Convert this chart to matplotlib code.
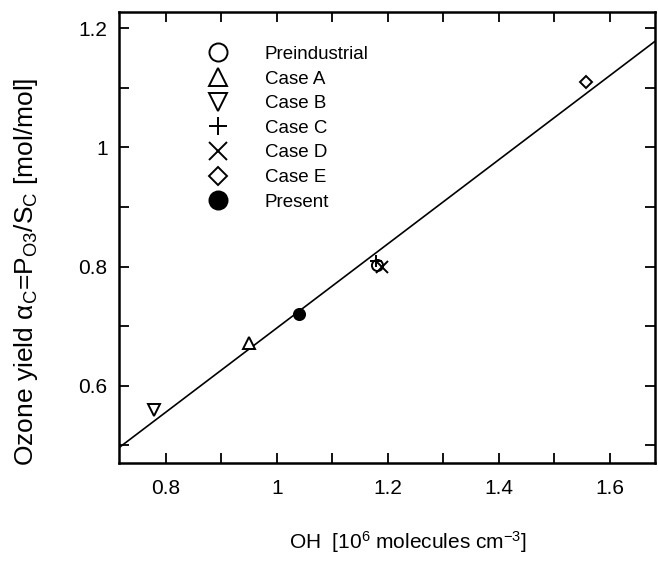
import matplotlib
matplotlib.use("Agg")
import matplotlib.pyplot as plt
from matplotlib.lines import Line2D
import numpy as np

plt.rcParams['font.family'] = ['Liberation Sans', 'DejaVu Sans']
plt.rcParams['mathtext.fontset'] = 'custom'
plt.rcParams['mathtext.rm'] = 'Liberation Sans'
plt.rcParams['mathtext.it'] = 'Liberation Sans:italic'
plt.rcParams['mathtext.sf'] = 'Liberation Sans'

# simulations: OH (1e6 molec/cm3) vs ozone yield
cases = ["Preindustrial", "Case A", "Case B", "Case C", "Case D", "Case E", "Present"]
oh = [1.18, 0.95, 0.778, 1.178, 1.19, 1.557, 1.04]
yield_c = [0.802, 0.671, 0.559, 0.81, 0.80, 1.11, 0.72]
markers = ["o", "^", "v", "+", "x", "D", "o"]
filled = [False, False, False, False, False, False, True]

# regression line
fit_slope = 0.706
fit_icpt = -0.009

xlim = (0.715, 1.681)
ylim = (0.471, 1.227)

fig = plt.figure(figsize=(6.58, 5.63), dpi=100)
ax = fig.add_axes([0.1804, 0.1782, 0.8150, 0.8005])

xs = np.array(xlim)
ax.plot(xs, fit_slope * xs + fit_icpt, color="black", lw=1.2, zorder=1)

handles = []
for name, x, y, m, f in zip(cases, oh, yield_c, markers, filled):
    face = "black" if f else "white"
    if m in ("+", "x"):
        face = "black"
    ms = 6 if m == "D" else 8
    ax.plot([x], [y], marker=m, ls="none", ms=ms, mfc=face, mec="black", mew=1.4, zorder=3)
    lms = 9.5 if m == "D" else 13
    handles.append(Line2D([], [], marker=m, ls="none", ms=lms, mfc=face, mec="black", mew=1.4, label=name))

leg = ax.legend(handles=handles, loc="upper left", bbox_to_anchor=(0.1256, 0.954), frameon=False,
                fontsize=13.5, labelspacing=0.4, handletextpad=1.5, borderpad=0.2)

ax.set_xlim(*xlim)
ax.set_ylim(*ylim)
ax.set_xticks(np.arange(0.8, 1.65, 0.2))
ax.set_xticks(np.arange(0.8, 1.65, 0.1), minor=True)
ax.set_yticks(np.arange(0.6, 1.25, 0.2))
ax.set_yticks(np.arange(0.5, 1.25, 0.1), minor=True)
ax.set_xticklabels(["0.8", "1", "1.2", "1.4", "1.6"])
ax.set_yticklabels(["0.6", "0.8", "1", "1.2"])
ax.tick_params(which="both", direction="in", top=True, right=True, length=7, width=1.3,
               labelsize=15)
ax.tick_params(axis="x", pad=12)
ax.tick_params(axis="y", pad=8)
for s in ax.spines.values():
    s.set_linewidth(1.8)

ax.set_xlabel(r"OH  [10$^6$ molecules cm$^{-3}$]", fontsize=15)
ax.xaxis.set_label_coords(0.539, -0.147)
ax.set_ylabel("Ozone yield α$_\\mathrm{C}$=P$_\\mathrm{O3}$/S$_\\mathrm{C}$ [mol/mol]", fontsize=19)
ax.yaxis.set_label_coords(-0.147, 0.423)

fig.savefig("out.png", dpi=100)
